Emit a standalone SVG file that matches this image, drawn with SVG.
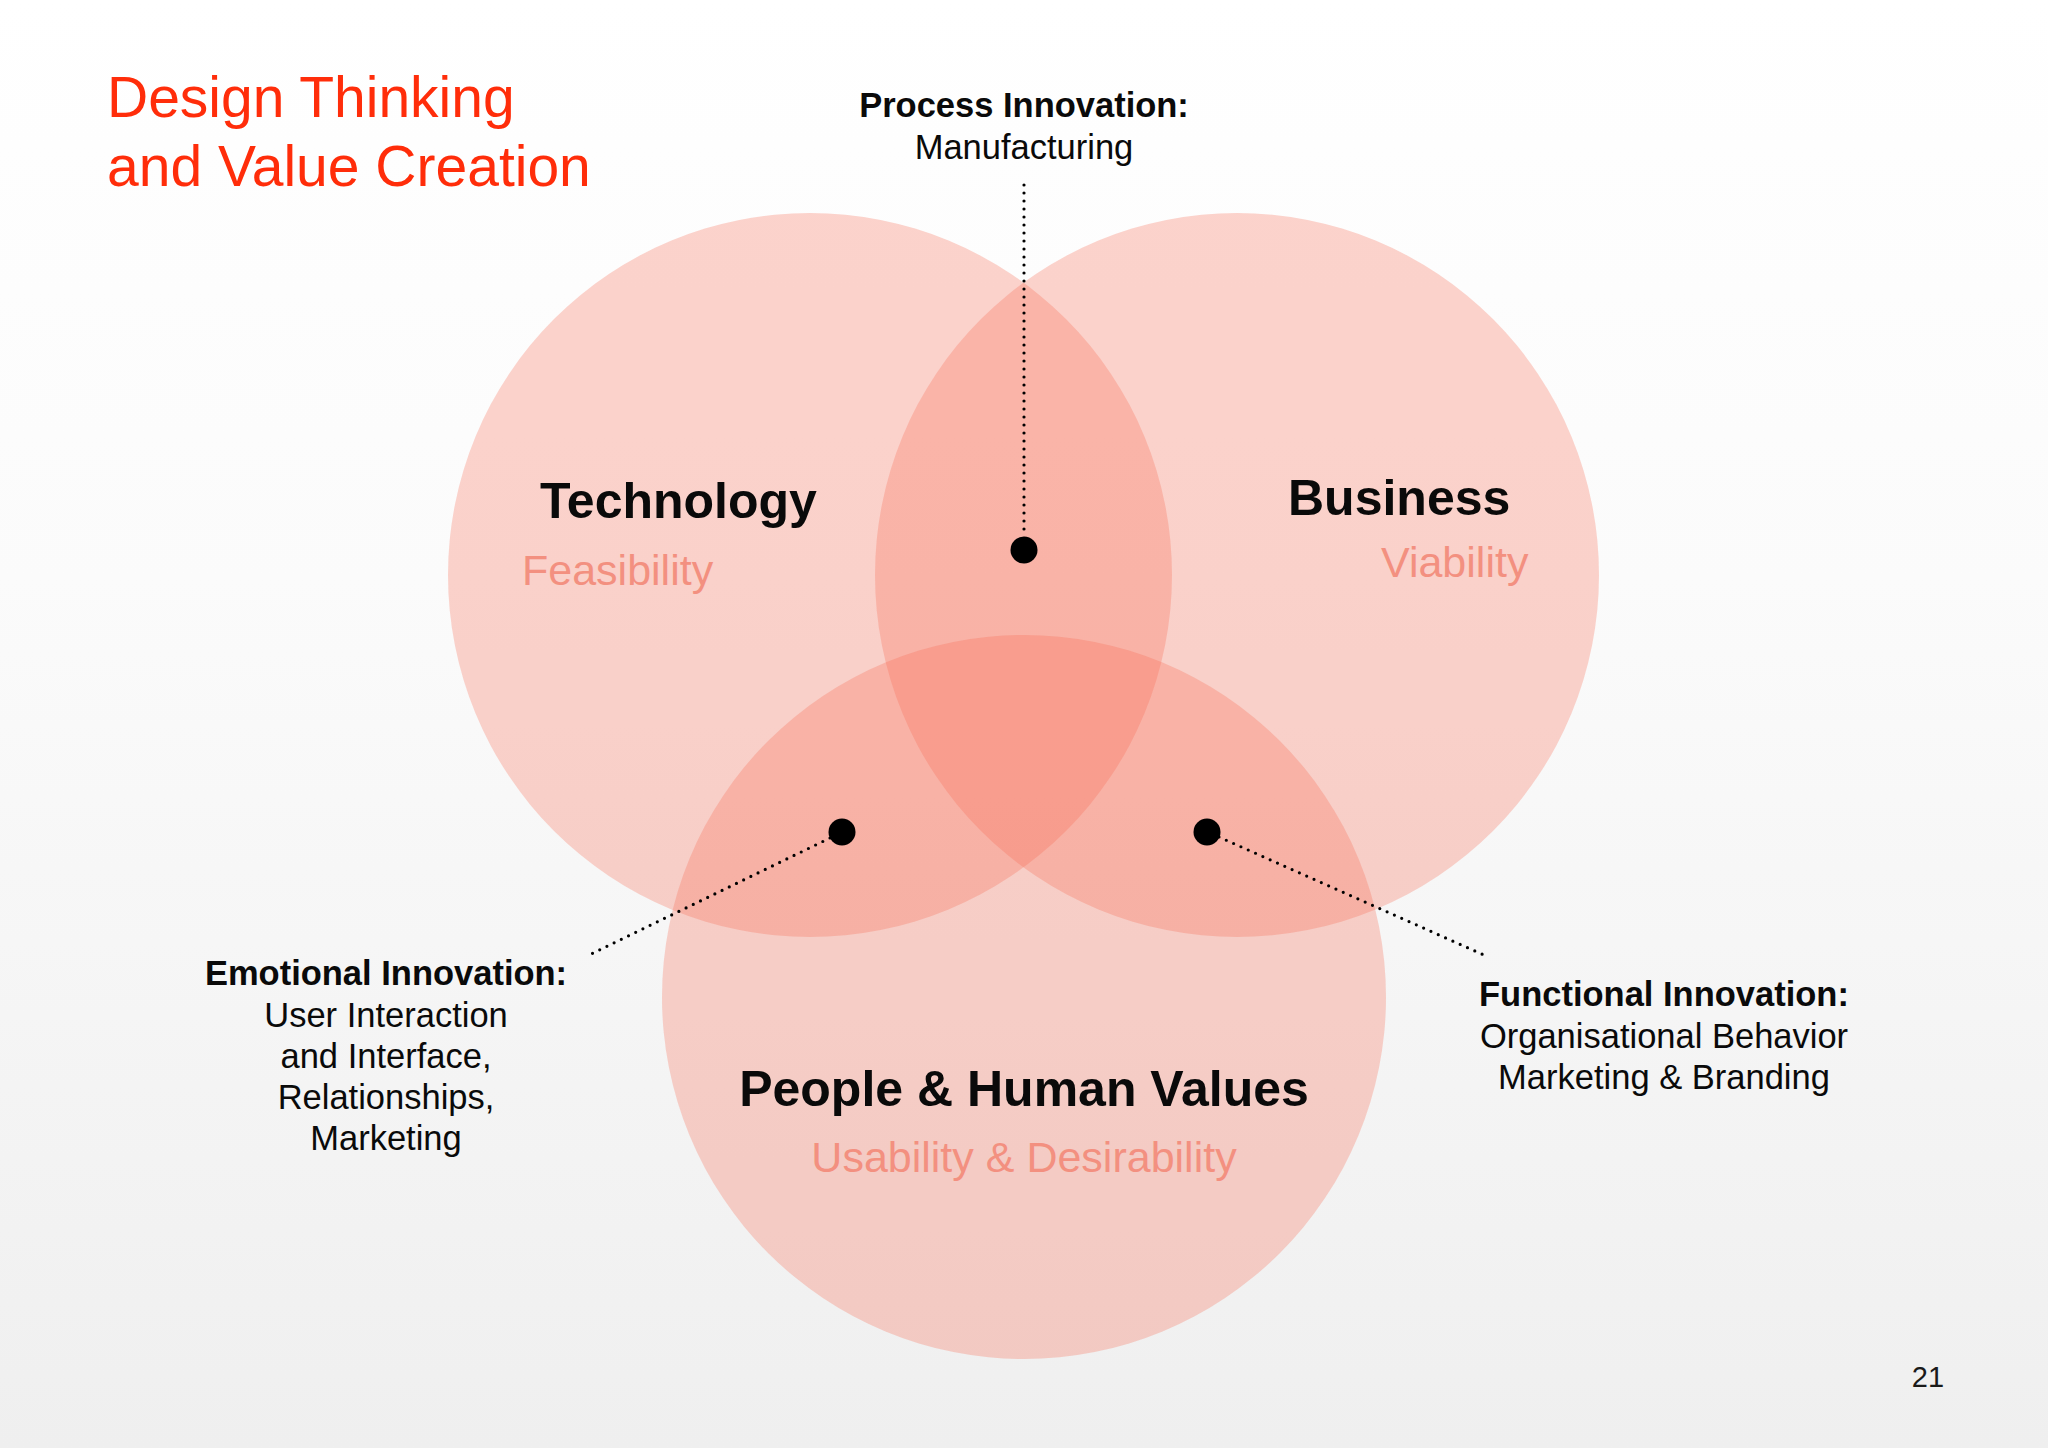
<svg xmlns="http://www.w3.org/2000/svg" width="2048" height="1448" viewBox="0 0 2048 1448">
<defs>
<linearGradient id="bg" x1="0" y1="0" x2="0" y2="1">
<stop offset="0" stop-color="#FFFFFF"/>
<stop offset="0.4" stop-color="#FBFBFB"/>
<stop offset="1" stop-color="#EFEFEF"/>
</linearGradient>
<style>
.circ{fill:#F76C54;fill-opacity:0.29}
.title{font-family:"Liberation Sans",Arial,sans-serif;font-size:57px;fill:#FF2D0A}
.head{font-family:"Liberation Sans",Arial,sans-serif;font-weight:bold;font-size:50px;fill:#0A0A0A}
.sub{font-family:"Liberation Sans",Arial,sans-serif;font-size:43px;fill:#F39080}
.lblb{font-family:"Liberation Sans",Arial,sans-serif;font-weight:bold;font-size:34.5px;fill:#0A0A0A;text-anchor:middle}
.lbl{font-family:"Liberation Sans",Arial,sans-serif;font-size:34.5px;fill:#0A0A0A;text-anchor:middle}
.dotline{fill:none;stroke:#000;stroke-width:3.2;stroke-linecap:round;stroke-dasharray:0 8}
.dot{fill:#000}
</style>
</defs>
<rect width="2048" height="1448" fill="url(#bg)"/>
<g id="title">
<text class="title" x="107" y="117">Design Thinking</text>
<text class="title" x="107" y="186">and Value Creation</text>
</g>
<g id="technology">
<circle class="circ" cx="810" cy="575" r="362"/>
<text class="head" x="540" y="518">Technology</text>
<text class="sub" x="522" y="585">Feasibility</text>
</g>
<g id="business">
<circle class="circ" cx="1237" cy="575" r="362"/>
<text class="head" x="1288" y="515">Business</text>
<text class="sub" x="1381" y="577">Viability</text>
</g>
<g id="people">
<circle class="circ" cx="1024" cy="997" r="362"/>
<text class="head" x="1024" y="1106" text-anchor="middle">People &amp; Human Values</text>
<text class="sub" x="1024" y="1172" text-anchor="middle">Usability &amp; Desirability</text>
</g>
<g id="process-innovation">
<text class="lblb" x="1024" y="117">Process Innovation:</text>
<text class="lbl" x="1024" y="159">Manufacturing</text>
<circle class="dot" cx="1024" cy="550" r="13.5"/>
</g>
<g id="emotional-innovation">
<text class="lblb" x="386" y="985">Emotional Innovation:</text>
<text class="lbl" x="386" y="1027">User Interaction</text>
<text class="lbl" x="386" y="1068">and Interface,</text>
<text class="lbl" x="386" y="1109">Relationships,</text>
<text class="lbl" x="386" y="1150">Marketing</text>
<circle class="dot" cx="842" cy="832" r="13.5"/>
</g>
<g id="functional-innovation">
<text class="lblb" x="1664" y="1006">Functional Innovation:</text>
<text class="lbl" x="1664" y="1048">Organisational Behavior</text>
<text class="lbl" x="1664" y="1089">Marketing &amp; Branding</text>
<circle class="dot" cx="1207" cy="832" r="13.5"/>
</g>
<g id="connectors">
<line class="dotline" x1="1024" y1="185" x2="1024" y2="537"/>
<line class="dotline" x1="830" y1="838" x2="587" y2="956"/>
<line class="dotline" x1="1219" y1="837" x2="1484" y2="955"/>
</g>
<text x="1928" y="1387" font-family="Liberation Sans, Arial, sans-serif" font-size="29" fill="#1A1A1A" text-anchor="middle">21</text>
</svg>
